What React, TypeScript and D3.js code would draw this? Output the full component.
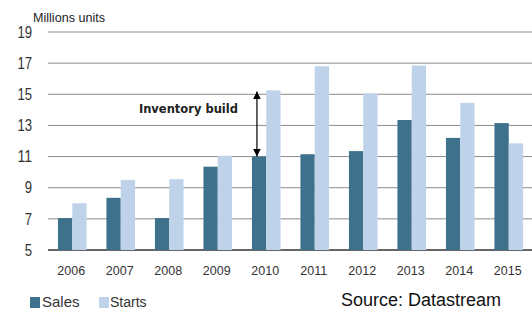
import React from 'react';
import * as d3 from 'd3';

const years = ['2006', '2007', '2008', '2009', '2010', '2011', '2012', '2013', '2014', '2015'];
const sales = [7.05, 8.35, 7.05, 10.35, 11.0, 11.15, 11.35, 13.35, 12.2, 13.15];
const starts = [8.0, 9.5, 9.55, 11.05, 15.25, 16.8, 15.05, 16.85, 14.45, 11.85];
const yTicks = [5, 7, 9, 11, 13, 15, 17, 19];

const W = 532, H = 311;
const margin = { top: 32, right: -1, bottom: 61, left: 48 };
const darkBlue = '#3d718c';
const lightBlue = '#bed3ea';
const font = "'Liberation Sans', Arial, sans-serif";

export default function App() {
  const x = d3.scaleBand<string>()
    .domain(years)
    .range([margin.left, W - margin.right])
    .paddingInner(0.41)
    .paddingOuter(0.205);
  const y = d3.scaleLinear().domain([5, 19]).range([H - margin.bottom, margin.top]);
  const bw = x.bandwidth() / 2;

  // arrow between sales and starts for 2010
  const ax = (x('2010') as number) + 5;
  const ay1 = y(starts[4]) + 1;
  const ay2 = y(sales[4]);

  return (
    <svg width={W} height={H} style={{ position: 'absolute', left: 0, top: 0, background: '#fff' }}>
      <defs>
        <marker id="head" viewBox="0 0 10 10" refX="10" refY="5" markerWidth="8" markerHeight="8"
          markerUnits="userSpaceOnUse" orient="auto-start-reverse">
          <path d="M0,0 L10,5 L0,10 z" fill="#000" />
        </marker>
      </defs>

      <text x={33} y={22} fontFamily={font} fontSize={12.5} fill="#222" textLength={72}
        lengthAdjust="spacingAndGlyphs">Millions units</text>

      {yTicks.map(t => (
        <g key={t}>
          <line x1={margin.left} x2={W} y1={y(t)} y2={y(t)}
            stroke={t === 5 ? '#333' : '#8c8c8c'} strokeWidth={t === 5 ? 1.5 : 1} />
          <text x={32} y={y(t)} dy="0.36em" textAnchor="end" fontFamily={font}
            fontSize={16} fill="#333" textLength={String(t).length * 7.3}
            lengthAdjust="spacingAndGlyphs">{t}</text>
        </g>
      ))}

      {years.map((yr, i) => (
        <g key={yr}>
          <rect x={x(yr)} y={y(sales[i])} width={bw} height={y(5) - y(sales[i])} fill={darkBlue} />
          <rect x={(x(yr) as number) + bw} y={y(starts[i])} width={bw}
            height={y(5) - y(starts[i])} fill={lightBlue} />
          <text x={(x(yr) as number) + x.bandwidth() / 2 - 1} y={275} textAnchor="middle"
            fontFamily={font} fontSize={12.5} fill="#333">{yr}</text>
        </g>
      ))}

      <line x1={ax} x2={ax} y1={ay1} y2={ay2} stroke="#000" strokeWidth={1.2}
        markerStart="url(#head)" markerEnd="url(#head)" />
      <text x={ax - 19} y={113} textAnchor="end" fontFamily="'DejaVu Sans', sans-serif"
        fontWeight="bold" fontSize={11.5} fill="#222">Inventory build</text>

      <rect x={30} y={297} width={10} height={11} fill={darkBlue} />
      <text x={42} y={307} fontFamily={font} fontSize={15} fill="#333">Sales</text>
      <rect x={99} y={297} width={10} height={11} fill={lightBlue} />
      <text x={110} y={307} fontFamily={font} fontSize={14} fill="#333">Starts</text>

      <text x={341} y={306} fontFamily={font} fontSize={18} fill="#111">Source: Datastream</text>
    </svg>
  );
}
